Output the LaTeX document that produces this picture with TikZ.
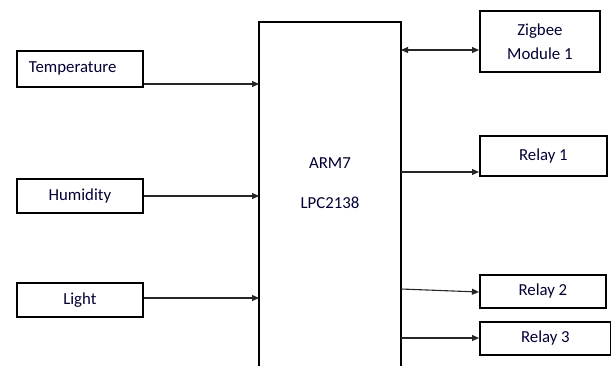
\documentclass[tikz,border=0pt]{standalone}
\usepackage{fontspec}
\setmainfont{Carlito}
\usetikzlibrary{arrows.meta}
\begin{document}
\begin{tikzpicture}[x=1pt,y=-1pt,
  lbl/.style={font=\fontsize{16.8}{20}\selectfont,text=black!80!blue},
  blk/.style={lbl,draw=black,line width=1.8pt,inner sep=0pt,anchor=north west},
  conn/.style={draw=black!85,line width=1.1pt,-{Triangle[length=7pt,width=6pt]}},
  bconn/.style={draw=black!85,line width=1.1pt,{Triangle[length=7pt,width=6pt]}-{Triangle[length=7pt,width=6pt]}}]
\useasboundingbox (0,0) rectangle (611,365);
\node[blk,minimum width=126pt,minimum height=36pt,text width=126pt,align=left] (temp) at (16,50) {\hspace*{12pt}Temperature};
\node[blk,minimum width=126pt,minimum height=34pt] (hum) at (16,178) {Humidity};
\node[blk,minimum width=126pt,minimum height=34pt] (light) at (16,282) {Light};
\coordinate (armtl) at (259,22);
\coordinate (armtr) at (401,22);
\draw[line width=1.8pt] (259,366) -- (armtl) -- (armtr) -- (401,366);
\node[lbl] (arm) at (330,163) {ARM7};
\node[lbl] (lpc) at (330,203) {LPC2138};
\node[blk,minimum width=120pt,minimum height=61pt,align=center] (zig) at (479,10) {Zigbee\\[4pt]Module 1};
\node[blk,minimum width=127pt,minimum height=40pt] (r1) at (479,135) {Relay 1};
\node[blk,minimum width=126pt,minimum height=33pt] (r2) at (479,274) {Relay 2};
\node[blk,minimum width=131pt,minimum height=33pt] (r3) at (479,321) {Relay 3};
\coordinate (t1) at (259,84);
\coordinate (h1) at (259,196);
\coordinate (l1) at (259,298);
\coordinate (z0) at (401,50);
\coordinate (o1) at (401,172);
\coordinate (o2) at (401,289);
\coordinate (o3) at (401,338);
\draw[conn] (temp.south east |- t1) -- (t1);
\draw[conn] (hum.east |- h1) -- (h1);
\draw[conn] (light.east |- l1) -- (l1);
\draw[bconn] (z0) -- (zig.west |- z0);
\draw[conn] (o1) -- (r1.west |- o1);
\draw[conn] (o2) -- (r2.west |- 0,292);
\draw[conn] (o3) -- (r3.west |- o3);
\end{tikzpicture}
\end{document}
